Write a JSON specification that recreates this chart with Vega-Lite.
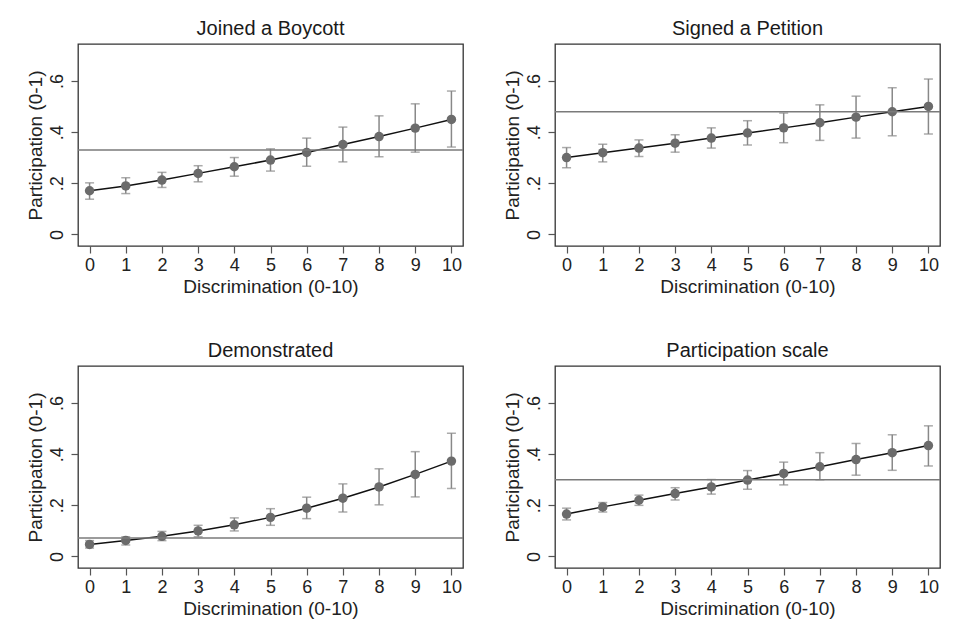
{
  "$schema": "https://vega.github.io/schema/vega-lite/v6.json",
  "background": "white",
  "padding": {"left": 25, "top": 18, "right": 5, "bottom": 5},
  "bounds": "flush",
  "columns": 2,
  "spacing": {"row": 120, "column": 92},
  "datasets": {
    "pts": [
      {"p": "Joined a Boycott", "x": 0, "y": 0.171, "lo": 0.138, "hi": 0.202},
      {"p": "Joined a Boycott", "x": 1, "y": 0.190, "lo": 0.160, "hi": 0.222},
      {"p": "Joined a Boycott", "x": 2, "y": 0.213, "lo": 0.184, "hi": 0.243},
      {"p": "Joined a Boycott", "x": 3, "y": 0.239, "lo": 0.206, "hi": 0.269},
      {"p": "Joined a Boycott", "x": 4, "y": 0.265, "lo": 0.228, "hi": 0.301},
      {"p": "Joined a Boycott", "x": 5, "y": 0.291, "lo": 0.248, "hi": 0.335},
      {"p": "Joined a Boycott", "x": 6, "y": 0.321, "lo": 0.267, "hi": 0.377},
      {"p": "Joined a Boycott", "x": 7, "y": 0.352, "lo": 0.284, "hi": 0.420},
      {"p": "Joined a Boycott", "x": 8, "y": 0.383, "lo": 0.304, "hi": 0.464},
      {"p": "Joined a Boycott", "x": 9, "y": 0.416, "lo": 0.322, "hi": 0.511},
      {"p": "Joined a Boycott", "x": 10, "y": 0.450, "lo": 0.342, "hi": 0.561},
      {"p": "Signed a Petition", "x": 0, "y": 0.301, "lo": 0.261, "hi": 0.340},
      {"p": "Signed a Petition", "x": 1, "y": 0.320, "lo": 0.284, "hi": 0.353},
      {"p": "Signed a Petition", "x": 2, "y": 0.338, "lo": 0.305, "hi": 0.370},
      {"p": "Signed a Petition", "x": 3, "y": 0.357, "lo": 0.322, "hi": 0.390},
      {"p": "Signed a Petition", "x": 4, "y": 0.377, "lo": 0.338, "hi": 0.417},
      {"p": "Signed a Petition", "x": 5, "y": 0.397, "lo": 0.350, "hi": 0.445},
      {"p": "Signed a Petition", "x": 6, "y": 0.417, "lo": 0.359, "hi": 0.475},
      {"p": "Signed a Petition", "x": 7, "y": 0.437, "lo": 0.368, "hi": 0.507},
      {"p": "Signed a Petition", "x": 8, "y": 0.459, "lo": 0.377, "hi": 0.541},
      {"p": "Signed a Petition", "x": 9, "y": 0.480, "lo": 0.386, "hi": 0.574},
      {"p": "Signed a Petition", "x": 10, "y": 0.501, "lo": 0.393, "hi": 0.608},
      {"p": "Demonstrated", "x": 0, "y": 0.047, "lo": 0.033, "hi": 0.062},
      {"p": "Demonstrated", "x": 1, "y": 0.063, "lo": 0.045, "hi": 0.077},
      {"p": "Demonstrated", "x": 2, "y": 0.079, "lo": 0.062, "hi": 0.098},
      {"p": "Demonstrated", "x": 3, "y": 0.100, "lo": 0.077, "hi": 0.122},
      {"p": "Demonstrated", "x": 4, "y": 0.124, "lo": 0.100, "hi": 0.151},
      {"p": "Demonstrated", "x": 5, "y": 0.153, "lo": 0.122, "hi": 0.187},
      {"p": "Demonstrated", "x": 6, "y": 0.189, "lo": 0.148, "hi": 0.232},
      {"p": "Demonstrated", "x": 7, "y": 0.228, "lo": 0.174, "hi": 0.284},
      {"p": "Demonstrated", "x": 8, "y": 0.272, "lo": 0.202, "hi": 0.343},
      {"p": "Demonstrated", "x": 9, "y": 0.321, "lo": 0.233, "hi": 0.410},
      {"p": "Demonstrated", "x": 10, "y": 0.373, "lo": 0.266, "hi": 0.482},
      {"p": "Participation scale", "x": 0, "y": 0.166, "lo": 0.143, "hi": 0.189},
      {"p": "Participation scale", "x": 1, "y": 0.194, "lo": 0.174, "hi": 0.211},
      {"p": "Participation scale", "x": 2, "y": 0.220, "lo": 0.200, "hi": 0.240},
      {"p": "Participation scale", "x": 3, "y": 0.246, "lo": 0.221, "hi": 0.269},
      {"p": "Participation scale", "x": 4, "y": 0.272, "lo": 0.244, "hi": 0.301},
      {"p": "Participation scale", "x": 5, "y": 0.299, "lo": 0.263, "hi": 0.336},
      {"p": "Participation scale", "x": 6, "y": 0.325, "lo": 0.280, "hi": 0.369},
      {"p": "Participation scale", "x": 7, "y": 0.351, "lo": 0.300, "hi": 0.406},
      {"p": "Participation scale", "x": 8, "y": 0.379, "lo": 0.318, "hi": 0.442},
      {"p": "Participation scale", "x": 9, "y": 0.406, "lo": 0.337, "hi": 0.476},
      {"p": "Participation scale", "x": 10, "y": 0.434, "lo": 0.354, "hi": 0.511}
    ],
    "refs": [
      {"p": "Joined a Boycott", "ref": 0.330},
      {"p": "Signed a Petition", "ref": 0.480},
      {"p": "Demonstrated", "ref": 0.072},
      {"p": "Participation scale", "ref": 0.300}
    ]
  },
  "concat": [
    {
      "title": "Joined a Boycott",
      "width": 385, "height": 202,
      "data": {"name": "pts"},
      "transform": [{"filter": "datum.p == 'Joined a Boycott'"}],
      "encoding": {
        "x": {"field": "x", "type": "quantitative", "title": "Discrimination (0-10)", "scale": {"domain": [-0.32, 10.32], "nice": false, "zero": false}, "axis": {"values": [0,1,2,3,4,5,6,7,8,9,10]}}
      },
      "layer": [
        {"mark": {"type": "errorbar", "color": "#888888", "thickness": 1.5, "ticks": {"size": 9, "thickness": 1.5, "color": "#888888"}},
         "encoding": {"y": {"field": "lo", "type": "quantitative", "title": "Participation (0-1)", "scale": {"domain": [-0.045, 0.745], "nice": false, "zero": false}, "axis": {"values": [0, 0.2, 0.4, 0.6], "labelExpr": "datum.value == 0 ? '0' : replace(format(datum.value, '.1f'), '0.', '.')"}}, "y2": {"field": "hi"}}},
        {"mark": {"type": "line", "color": "#111111", "strokeWidth": 1.5}, "encoding": {"y": {"field": "y", "type": "quantitative", "title": "Participation (0-1)"}}},
        {"mark": {"type": "point", "filled": true, "size": 90, "color": "#6b6b6b", "opacity": 1},
         "encoding": {"y": {"field": "y", "type": "quantitative", "title": "Participation (0-1)"}}},
        {"data": {"name": "refs"}, "transform": [{"filter": "datum.p == 'Joined a Boycott'"}],
         "mark": {"type": "rule", "color": "#7a7a7a", "strokeWidth": 1.5},
         "encoding": {"x": null, "y": {"field": "ref", "type": "quantitative", "title": "Participation (0-1)"}}}
      ]
    },
    {
      "title": "Signed a Petition",
      "width": 385, "height": 202,
      "data": {"name": "pts"},
      "transform": [{"filter": "datum.p == 'Signed a Petition'"}],
      "encoding": {
        "x": {"field": "x", "type": "quantitative", "title": "Discrimination (0-10)", "scale": {"domain": [-0.32, 10.32], "nice": false, "zero": false}, "axis": {"values": [0,1,2,3,4,5,6,7,8,9,10]}}
      },
      "layer": [
        {"mark": {"type": "errorbar", "color": "#888888", "thickness": 1.5, "ticks": {"size": 9, "thickness": 1.5, "color": "#888888"}},
         "encoding": {"y": {"field": "lo", "type": "quantitative", "title": "Participation (0-1)", "scale": {"domain": [-0.045, 0.745], "nice": false, "zero": false}, "axis": {"values": [0, 0.2, 0.4, 0.6], "labelExpr": "datum.value == 0 ? '0' : replace(format(datum.value, '.1f'), '0.', '.')"}}, "y2": {"field": "hi"}}},
        {"mark": {"type": "line", "color": "#111111", "strokeWidth": 1.5}, "encoding": {"y": {"field": "y", "type": "quantitative", "title": "Participation (0-1)"}}},
        {"mark": {"type": "point", "filled": true, "size": 90, "color": "#6b6b6b", "opacity": 1},
         "encoding": {"y": {"field": "y", "type": "quantitative", "title": "Participation (0-1)"}}},
        {"data": {"name": "refs"}, "transform": [{"filter": "datum.p == 'Signed a Petition'"}],
         "mark": {"type": "rule", "color": "#7a7a7a", "strokeWidth": 1.5},
         "encoding": {"x": null, "y": {"field": "ref", "type": "quantitative", "title": "Participation (0-1)"}}}
      ]
    },
    {
      "title": "Demonstrated",
      "width": 385, "height": 202,
      "data": {"name": "pts"},
      "transform": [{"filter": "datum.p == 'Demonstrated'"}],
      "encoding": {
        "x": {"field": "x", "type": "quantitative", "title": "Discrimination (0-10)", "scale": {"domain": [-0.32, 10.32], "nice": false, "zero": false}, "axis": {"values": [0,1,2,3,4,5,6,7,8,9,10]}}
      },
      "layer": [
        {"mark": {"type": "errorbar", "color": "#888888", "thickness": 1.5, "ticks": {"size": 9, "thickness": 1.5, "color": "#888888"}},
         "encoding": {"y": {"field": "lo", "type": "quantitative", "title": "Participation (0-1)", "scale": {"domain": [-0.045, 0.745], "nice": false, "zero": false}, "axis": {"values": [0, 0.2, 0.4, 0.6], "labelExpr": "datum.value == 0 ? '0' : replace(format(datum.value, '.1f'), '0.', '.')"}}, "y2": {"field": "hi"}}},
        {"mark": {"type": "line", "color": "#111111", "strokeWidth": 1.5}, "encoding": {"y": {"field": "y", "type": "quantitative", "title": "Participation (0-1)"}}},
        {"mark": {"type": "point", "filled": true, "size": 90, "color": "#6b6b6b", "opacity": 1},
         "encoding": {"y": {"field": "y", "type": "quantitative", "title": "Participation (0-1)"}}},
        {"data": {"name": "refs"}, "transform": [{"filter": "datum.p == 'Demonstrated'"}],
         "mark": {"type": "rule", "color": "#7a7a7a", "strokeWidth": 1.5},
         "encoding": {"x": null, "y": {"field": "ref", "type": "quantitative", "title": "Participation (0-1)"}}}
      ]
    },
    {
      "title": "Participation scale",
      "width": 385, "height": 202,
      "data": {"name": "pts"},
      "transform": [{"filter": "datum.p == 'Participation scale'"}],
      "encoding": {
        "x": {"field": "x", "type": "quantitative", "title": "Discrimination (0-10)", "scale": {"domain": [-0.32, 10.32], "nice": false, "zero": false}, "axis": {"values": [0,1,2,3,4,5,6,7,8,9,10]}}
      },
      "layer": [
        {"mark": {"type": "errorbar", "color": "#888888", "thickness": 1.5, "ticks": {"size": 9, "thickness": 1.5, "color": "#888888"}},
         "encoding": {"y": {"field": "lo", "type": "quantitative", "title": "Participation (0-1)", "scale": {"domain": [-0.045, 0.745], "nice": false, "zero": false}, "axis": {"values": [0, 0.2, 0.4, 0.6], "labelExpr": "datum.value == 0 ? '0' : replace(format(datum.value, '.1f'), '0.', '.')"}}, "y2": {"field": "hi"}}},
        {"mark": {"type": "line", "color": "#111111", "strokeWidth": 1.5}, "encoding": {"y": {"field": "y", "type": "quantitative", "title": "Participation (0-1)"}}},
        {"mark": {"type": "point", "filled": true, "size": 90, "color": "#6b6b6b", "opacity": 1},
         "encoding": {"y": {"field": "y", "type": "quantitative", "title": "Participation (0-1)"}}},
        {"data": {"name": "refs"}, "transform": [{"filter": "datum.p == 'Participation scale'"}],
         "mark": {"type": "rule", "color": "#7a7a7a", "strokeWidth": 1.5},
         "encoding": {"x": null, "y": {"field": "ref", "type": "quantitative", "title": "Participation (0-1)"}}}
      ]
    }
  ],
  "config": {
    "font": "Liberation Sans",
    "view": {"stroke": "#333333", "strokeWidth": 1.3},
    "title": {"fontSize": 20, "fontWeight": "normal", "color": "#1a1a1a", "offset": 5, "anchor": "middle"},
    "axis": {"grid": false, "domain": false, "tickColor": "#555555", "tickSize": 7, "tickWidth": 1.2, "labelFontSize": 18, "labelColor": "#222222", "titleFontSize": 19, "titleFontWeight": "normal", "titleColor": "#222222"},
    "axisY": {"labelAngle": -90, "labelAlign": "center", "labelBaseline": "bottom", "labelPadding": 5, "titlePadding": 3},
    "axisX": {"labelPadding": 3, "titlePadding": 3}
  }
}
